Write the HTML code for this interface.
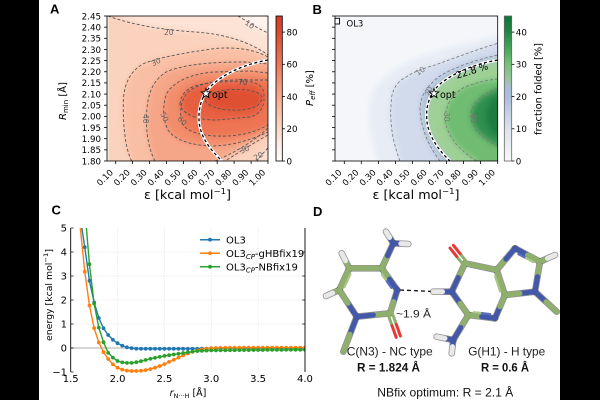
<!DOCTYPE html>
<html><head><meta charset="utf-8"><style>
html,body{margin:0;padding:0;background:#000;}
svg{display:block}
text{font-family:"DejaVu Sans","Liberation Sans",sans-serif;fill:#000;}
</style></head><body>
<svg width="600" height="400" viewBox="0 0 600 400" xmlns="http://www.w3.org/2000/svg">
<defs>
<clipPath id="cA"><rect x="107" y="16" width="161" height="145"/></clipPath>
<clipPath id="cB"><rect x="335" y="16" width="162.7" height="145"/></clipPath>
<clipPath id="cC"><rect x="70.7" y="228" width="234.3" height="147"/></clipPath>
<filter id="bl" x="-20%" y="-20%" width="140%" height="140%"><feGaussianBlur stdDeviation="3"/></filter>
<linearGradient id="gA" x1="0" y1="0" x2="0" y2="1">
<stop offset="0" stop-color="#d63a27"/><stop offset="0.11" stop-color="#dd4a30"/><stop offset="0.22" stop-color="#e66044"/>
<stop offset="0.33" stop-color="#ee7757"/><stop offset="0.44" stop-color="#f38f71"/><stop offset="0.56" stop-color="#f7a98c"/>
<stop offset="0.67" stop-color="#f9c1a8"/><stop offset="0.78" stop-color="#fcd7c7"/><stop offset="0.89" stop-color="#feece4"/>
<stop offset="1" stop-color="#ffffff"/></linearGradient>
<linearGradient id="gB" x1="0" y1="0" x2="0" y2="1">
<stop offset="0" stop-color="#0f7335"/><stop offset="0.11" stop-color="#218646"/><stop offset="0.22" stop-color="#45a55a"/>
<stop offset="0.33" stop-color="#74c177"/><stop offset="0.44" stop-color="#9cc4a4"/><stop offset="0.5" stop-color="#a8bcd6"/>
<stop offset="0.56" stop-color="#abbedc"/><stop offset="0.78" stop-color="#dce3ee"/><stop offset="1" stop-color="#f8f8f8"/></linearGradient>
<path id="star" d="M0,-5 L1.23,-1.7 L4.76,-1.55 L2,0.65 L2.94,4.05 L0,2.1 L-2.94,4.05 L-2,0.65 L-4.76,-1.55 L-1.23,-1.7 Z" fill="#fff" stroke="#000" stroke-width="0.9"/>
<marker id="mb" markerWidth="6" markerHeight="6" refX="3" refY="3" markerUnits="userSpaceOnUse"><circle cx="3" cy="3" r="1.9" fill="#1f77b4"/></marker>
<marker id="mo" markerWidth="6" markerHeight="6" refX="3" refY="3" markerUnits="userSpaceOnUse"><circle cx="3" cy="3" r="1.9" fill="#ff7f0e"/></marker>
<marker id="mg" markerWidth="6" markerHeight="6" refX="3" refY="3" markerUnits="userSpaceOnUse"><circle cx="3" cy="3" r="1.9" fill="#2ca02c"/></marker>
</defs>

<rect x="0" y="0" width="600" height="400" fill="#000"/>
<rect x="39" y="0" width="521" height="400" fill="#fff"/>

<!-- ================= PANEL A ================= -->
<text x="50" y="13.5" font-size="13" font-weight="bold" style="font-family:'Liberation Sans',sans-serif">A</text>
<g clip-path="url(#cA)">
<rect x="107" y="16" width="161" height="145" fill="#fbd2bd"/>
<g filter="url(#bl)">
<path d="M100,4 L107,10 C125,22 150,29 195,32 C225,34 250,42 268,55 L285,62 L285,4 Z" fill="#fde3d6"/>
<path d="M238,4 L238,16 C245,20 255,27 268,33 L285,40 L285,4 Z" fill="#fff3ee"/>
<path d="M285,140 L268,148 C262,154 259,158 256,172 L285,172 Z" fill="#fde3d6"/>
<path d="M131.7,172 L131.7,161 C126,150 123,130 123.3,103 C123.5,85 130,70 145,63 C165,56 190,52 216.7,48.3 C240,47 255,50 268,57 L285,60 L285,130 L268,135 C250,145 235,155 225,161 L222,172 Z" fill="#f9bfa4"/>
<path d="M155,172 L155,161 C148,148 146,130 146.5,117 C147,95 152,80 168,71 C190,63 220,62 245,62 L268,64 L285,64 L285,125 L268,128 C255,140 240,150 215,161 L212,172 Z" fill="#f6a688"/>
<path d="M168,130 C163,120 162,105 167,93 C175,80 195,73 215,72 L250,71 L268,73 L285,73 L285,130 L268,132 C255,138 235,146 210,146 C190,145 175,140 168,130 Z" fill="#f28d6c"/>
<path d="M183,125 C179,115 180,100 188,92 C198,84 215,80 240,80 L268,80 L285,80 L285,124 L268,125 C255,132 240,137 215,136 C198,135 188,131 183,125 Z" fill="#ed7453"/>
<path d="M180,104 C181,95 186,89 195,86 C205,83 215,82 230,81.7 L250,81.7 C258,83 263,87 264,93 L264,102 C262,110 258,115 250,117 L216.7,120 C205,120 196,118 190,115 C184,112 180,108 180,104 Z" fill="#e65f3f"/>
<path d="M205,100 C208,93 218,90 235,89.5 C250,89 260,92 262,97 C262,104 255,109 240,110 C222,111 208,107 205,100 Z" fill="#df4f33"/>
</g>
<rect x="107" y="16" width="2" height="145" fill="#fbe8d2"/>
<g fill="none" stroke="#555" stroke-width="0.9" stroke-dasharray="3,2">
<path d="M238,16 C245,20 255,27 268,33"/>
<path d="M108,16 C125,22 150,29 195,32 C225,34 250,42 268,55"/>
<path d="M268,148 C262,154 259,158 257,161"/>
<path d="M131.7,161 C126,150 123,130 123.3,103 C123.5,85 130,70 145,63 C165,56 190,52 216.7,48.3 C240,47 255,50 268,57"/>
<path d="M268,135 C250,145 235,155 225,161"/>
<path d="M155,161 C148,148 146,130 146.5,117 C147,95 152,80 168,71 C190,63 220,62 245,62 L268,64"/>
<path d="M268,128 C255,140 240,150 215,161"/>
<path d="M268,73 L250,71 L215,72 C195,73 175,80 167,93 C162,105 163,120 168,130 C175,140 190,145 210,146 C235,146 255,138 268,132"/>
<path d="M268,80 L240,80 C215,80 198,84 188,92 C180,100 179,115 183,125 C188,131 198,135 215,136 C240,137 255,132 268,125"/>
<path d="M180,104 C181,95 186,89 195,86 C205,83 215,82 230,81.7 L250,81.7 C258,83 263,87 264,93 L264,102 C262,110 258,115 250,117 L216.7,120 C205,120 196,118 190,115 C184,112 180,108 180,104 Z"/>
<path d="M205,100 C208,93 218,90 235,89.5 C250,89 260,92 262,97 C262,104 255,109 240,110 C222,111 208,107 205,100 Z"/>
</g>
<g font-size="7.5" fill="#666">
<text x="245" y="26" transform="rotate(35 248 24)" style="fill:#666">10</text>
<text x="164" y="35" style="fill:#666">20</text>
<text x="151" y="65" transform="rotate(-28 155 62)" style="fill:#666">30</text>
<text x="143" y="120" transform="rotate(90 146 117)" style="fill:#666">40</text>
<text x="160" y="120" transform="rotate(65 165 117)" style="fill:#666">50</text>
<text x="178" y="123" transform="rotate(45 182 120)" style="fill:#666">60</text>
<text x="238" y="85" style="fill:#555">70</text>
<text x="240" y="152" transform="rotate(-25 245 150)" style="fill:#666">30</text>
<text x="254" y="159" transform="rotate(-30 258 157)" style="fill:#666">20</text>
</g>
<path d="M268,60 C245,64 222,74 209,88 C199,100 196,118 202,134 C207,146 215,154 222,161" fill="none" stroke="#fff" stroke-width="3"/>
<path d="M268,60 C245,64 222,74 209,88 C199,100 196,118 202,134 C207,146 215,154 222,161" fill="none" stroke="#000" stroke-width="1.3" stroke-dasharray="3,2.5"/>
</g>
<use href="#star" x="206" y="93.5"/>
<text x="212" y="98" font-size="9.5">opt</text>
<rect x="107" y="16" width="161" height="145" fill="none" stroke="#000" stroke-width="0.8"/>
<g stroke="#000" stroke-width="0.8">
<line x1="104" y1="16" x2="107" y2="16"/><line x1="104" y1="27.15" x2="107" y2="27.15"/><line x1="104" y1="38.31" x2="107" y2="38.31"/><line x1="104" y1="49.46" x2="107" y2="49.46"/><line x1="104" y1="60.62" x2="107" y2="60.62"/><line x1="104" y1="71.77" x2="107" y2="71.77"/><line x1="104" y1="82.92" x2="107" y2="82.92"/><line x1="104" y1="94.08" x2="107" y2="94.08"/><line x1="104" y1="105.23" x2="107" y2="105.23"/><line x1="104" y1="116.38" x2="107" y2="116.38"/><line x1="104" y1="127.54" x2="107" y2="127.54"/><line x1="104" y1="138.69" x2="107" y2="138.69"/><line x1="104" y1="149.85" x2="107" y2="149.85"/><line x1="104" y1="161" x2="107" y2="161"/>
<line x1="115.7" y1="161" x2="115.7" y2="164"/><line x1="132.6" y1="161" x2="132.6" y2="164"/><line x1="149.5" y1="161" x2="149.5" y2="164"/><line x1="166.5" y1="161" x2="166.5" y2="164"/><line x1="183.4" y1="161" x2="183.4" y2="164"/><line x1="200.3" y1="161" x2="200.3" y2="164"/><line x1="217.2" y1="161" x2="217.2" y2="164"/><line x1="234.1" y1="161" x2="234.1" y2="164"/><line x1="251.1" y1="161" x2="251.1" y2="164"/><line x1="268" y1="161" x2="268" y2="164"/>
</g>
<g font-size="8.7" text-anchor="end">
<text x="101" y="19.3">2.45</text><text x="101" y="30.45">2.40</text><text x="101" y="41.6">2.35</text><text x="101" y="52.76">2.30</text><text x="101" y="63.9">2.25</text><text x="101" y="75.07">2.20</text><text x="101" y="86.2">2.15</text><text x="101" y="97.38">2.10</text><text x="101" y="108.53">2.05</text><text x="101" y="119.68">2.00</text><text x="101" y="130.84">1.95</text><text x="101" y="141.99">1.90</text><text x="101" y="153.15">1.85</text><text x="101" y="164.3">1.80</text>
</g>
<g font-size="8.5" text-anchor="end">
<text transform="translate(113.7,173) rotate(-45)">0.10</text>
<text transform="translate(130.6,173) rotate(-45)">0.20</text>
<text transform="translate(147.5,173) rotate(-45)">0.30</text>
<text transform="translate(164.5,173) rotate(-45)">0.40</text>
<text transform="translate(181.4,173) rotate(-45)">0.50</text>
<text transform="translate(198.3,173) rotate(-45)">0.60</text>
<text transform="translate(215.2,173) rotate(-45)">0.70</text>
<text transform="translate(232.1,173) rotate(-45)">0.80</text>
<text transform="translate(249.1,173) rotate(-45)">0.90</text>
<text transform="translate(266,173) rotate(-45)">1.00</text>
</g>
<text x="187.5" y="199" font-size="12" text-anchor="middle" textLength="87" lengthAdjust="spacingAndGlyphs">ε  [kcal mol<tspan font-size="8" dy="-5">−1</tspan><tspan dy="5">]</tspan></text>
<text transform="translate(66,101) rotate(-90)" font-size="10" text-anchor="middle"><tspan font-style="italic">R</tspan><tspan font-size="7" dy="2">min</tspan><tspan dy="-2"> [Å]</tspan></text>
<rect x="276" y="16" width="6.3" height="145" fill="url(#gA)" stroke="#000" stroke-width="0.8"/>
<g stroke="#000" stroke-width="0.8"><line x1="282.3" y1="161" x2="285" y2="161"/><line x1="282.3" y1="128.8" x2="285" y2="128.8"/><line x1="282.3" y1="96.6" x2="285" y2="96.6"/><line x1="282.3" y1="64.3" x2="285" y2="64.3"/><line x1="282.3" y1="32.1" x2="285" y2="32.1"/></g>
<g font-size="8.7"><text x="286.5" y="164.3">0</text><text x="286.5" y="132.1">20</text><text x="286.5" y="99.9">40</text><text x="286.5" y="67.6">60</text><text x="286.5" y="35.4">80</text></g>
<text transform="translate(313,88) rotate(-90)" font-size="10" text-anchor="middle"><tspan font-style="italic">P</tspan><tspan font-size="7" font-style="italic" dy="2">eff</tspan><tspan dy="-2"> [%]</tspan></text>

<!-- ================= PANEL B ================= -->
<text x="312.5" y="14" font-size="13" font-weight="bold" style="font-family:'Liberation Sans',sans-serif">B</text>
<g clip-path="url(#cB)">
<rect x="335" y="16" width="162.7" height="145" fill="#f4f6fa"/>
<g filter="url(#bl)">
<path d="M380,172 L378,161 C368,135 366,105 375,88 C388,68 420,55 460,45 L497.7,36 L515,34 L515,172 Z" fill="#e7ecf5"/>
<path d="M400,172 L400,158.3 C392,140 389,120 391.7,96.7 C394,85 400,80 406.7,76.7 C415,71 425,68 435,65 C455,58 475,50 497.7,43.3 L515,40 L515,172 Z" fill="#d2dbec"/>
<path d="M440,172 L440,161 C430,148 421,130 420,110 C420,95 428,85 440,76 C455,67 475,60 497.7,55 L515,53 L515,172 Z" fill="#b3c2df"/>
<path d="M450,172 L450,160 C440,150 430,138 427,123 C425,110 428,98 434,90 C445,78 460,70 497.7,60 L515,58 L515,172 Z" fill="#9ed096"/>
<path d="M476.7,172 L476.7,160 C462,152 450,140 446,125 C443,110 450,95 465,87 C478,82 488,80 497.7,79 L515,78 L515,172 Z" fill="#70bc72"/>
<path d="M497.7,146 C485,140 472,130 471,117 C470,105 480,95 497.7,88 L515,86 L515,150 Z" fill="#2e8f50"/>
<ellipse cx="502" cy="116" rx="16" ry="20" fill="#1c7b40"/>
</g>
<g fill="none" stroke="#777" stroke-width="0.8" stroke-dasharray="3,2">
<path d="M400,161 C392,140 389,120 391.7,96.7 C394,85 400,80 406.7,76.7 C415,71 425,68 435,65 C455,58 475,50 497.7,43.3"/>
<path d="M440,161 C430,148 421,130 420,110 C420,95 428,85 440,76 C455,67 475,60 497.7,55"/>
<path d="M476.7,161 C462,152 450,140 446,125 C443,110 450,95 465,87 C478,82 488,80 497.7,79"/>
<path d="M497.7,146 C485,140 472,130 471,117 C470,105 480,95 497.7,88"/>
</g>
<g font-size="7.5">
<text x="416" y="74" transform="rotate(-35 420 72)" style="fill:#777">10</text>
<text x="424" y="95" transform="rotate(-70 428 92)" style="fill:#777">20</text>
<text x="442" y="118" transform="rotate(90 446 116)" style="fill:#777">30</text>
<text x="469" y="119" transform="rotate(90 473 117)" style="fill:#777">40</text>
</g>
<path d="M497.7,60 C475,64 455,72 440,84 C430,93 426,105 426.7,118 C427,132 436,148 450,161" fill="none" stroke="#fff" stroke-width="3"/>
<path d="M497.7,60 C475,64 455,72 440,84 C430,93 426,105 426.7,118 C427,132 436,148 450,161" fill="none" stroke="#000" stroke-width="1.3" stroke-dasharray="3,2.5"/>
</g>
<text x="472" y="74" font-size="9.5" text-anchor="middle" transform="rotate(-17 472 71)">22.8 %</text>
<use href="#star" x="434" y="93.5"/>
<text x="440" y="98" font-size="9.5">opt</text>
<rect x="335" y="16" width="162.7" height="145" fill="none" stroke="#000" stroke-width="0.8"/>
<rect x="335" y="18.3" width="4.5" height="5.7" fill="#fff" stroke="#000" stroke-width="0.9"/>
<text x="346.5" y="26.3" font-size="8.5">OL3</text>
<g stroke="#000" stroke-width="0.8">
<line x1="332" y1="16" x2="335" y2="16"/><line x1="332" y1="27.15" x2="335" y2="27.15"/><line x1="332" y1="38.31" x2="335" y2="38.31"/><line x1="332" y1="49.46" x2="335" y2="49.46"/><line x1="332" y1="60.62" x2="335" y2="60.62"/><line x1="332" y1="71.77" x2="335" y2="71.77"/><line x1="332" y1="82.92" x2="335" y2="82.92"/><line x1="332" y1="94.08" x2="335" y2="94.08"/><line x1="332" y1="105.23" x2="335" y2="105.23"/><line x1="332" y1="116.38" x2="335" y2="116.38"/><line x1="332" y1="127.54" x2="335" y2="127.54"/><line x1="332" y1="138.69" x2="335" y2="138.69"/><line x1="332" y1="149.85" x2="335" y2="149.85"/><line x1="332" y1="161" x2="335" y2="161"/>
<line x1="344.3" y1="161" x2="344.3" y2="164"/><line x1="361.3" y1="161" x2="361.3" y2="164"/><line x1="378.4" y1="161" x2="378.4" y2="164"/><line x1="395.4" y1="161" x2="395.4" y2="164"/><line x1="412.5" y1="161" x2="412.5" y2="164"/><line x1="429.5" y1="161" x2="429.5" y2="164"/><line x1="446.5" y1="161" x2="446.5" y2="164"/><line x1="463.6" y1="161" x2="463.6" y2="164"/><line x1="480.6" y1="161" x2="480.6" y2="164"/><line x1="497.7" y1="161" x2="497.7" y2="164"/>
</g>
<g font-size="8.5" text-anchor="end">
<text transform="translate(342.3,173) rotate(-45)">0.10</text>
<text transform="translate(359.3,173) rotate(-45)">0.20</text>
<text transform="translate(376.4,173) rotate(-45)">0.30</text>
<text transform="translate(393.4,173) rotate(-45)">0.40</text>
<text transform="translate(410.5,173) rotate(-45)">0.50</text>
<text transform="translate(427.5,173) rotate(-45)">0.60</text>
<text transform="translate(444.5,173) rotate(-45)">0.70</text>
<text transform="translate(461.6,173) rotate(-45)">0.80</text>
<text transform="translate(478.6,173) rotate(-45)">0.90</text>
<text transform="translate(495.7,173) rotate(-45)">1.00</text>
</g>
<text x="416" y="199" font-size="12" text-anchor="middle" textLength="87" lengthAdjust="spacingAndGlyphs">ε  [kcal mol<tspan font-size="8" dy="-5">−1</tspan><tspan dy="5">]</tspan></text>
<rect x="504.3" y="16" width="7.4" height="145" fill="url(#gB)" stroke="#666" stroke-width="0.8"/>
<g stroke="#000" stroke-width="0.8"><line x1="511.7" y1="161" x2="514.4" y2="161"/><line x1="511.7" y1="128.8" x2="514.4" y2="128.8"/><line x1="511.7" y1="96.6" x2="514.4" y2="96.6"/><line x1="511.7" y1="64.3" x2="514.4" y2="64.3"/><line x1="511.7" y1="32.1" x2="514.4" y2="32.1"/></g>
<g font-size="8.7"><text x="515.8" y="164.3">0</text><text x="515.8" y="132.1">10</text><text x="515.8" y="99.9">20</text><text x="515.8" y="67.6">30</text><text x="515.8" y="35.4">40</text></g>
<text transform="translate(541.5,89) rotate(-90)" font-size="10" text-anchor="middle" textLength="92" lengthAdjust="spacingAndGlyphs">fraction folded  [%]</text>

<!-- ================= PANEL C ================= -->
<text x="51.5" y="214.5" font-size="13" font-weight="bold" style="font-family:'Liberation Sans',sans-serif">C</text>
<g stroke="#ddd" stroke-width="0.7" stroke-dasharray="1,1.5">
<line x1="117.55" y1="228" x2="117.55" y2="372"/><line x1="164.4" y1="228" x2="164.4" y2="372"/><line x1="211.25" y1="228" x2="211.25" y2="372"/><line x1="258.1" y1="228" x2="258.1" y2="372"/>
<line x1="70.7" y1="252" x2="305" y2="252"/><line x1="70.7" y1="276" x2="305" y2="276"/><line x1="70.7" y1="300" x2="305" y2="300"/><line x1="70.7" y1="324" x2="305" y2="324"/>
</g>
<line x1="70.7" y1="348" x2="305" y2="348" stroke="#c8c8c8" stroke-width="1.5"/>
<g clip-path="url(#cC)" fill="none" stroke-width="1.4" stroke-linejoin="round">
<polyline stroke="#1f77b4" marker-start="url(#mb)" marker-mid="url(#mb)" marker-end="url(#mb)" points="80.07,216 84.76,247.2 89.44,280.8 94.13,302.4 98.81,318 103.5,328.3 108.18,335 112.87,339.8 117.55,343.2 122.24,345.6 126.92,347.3 131.61,348.2 136.29,348.7 140.98,348.8 145.66,348.8 150.35,348.8 155.03,348.8 159.72,348.8 164.4,348.8 169.09,348.8 173.77,348.8 178.46,348.8 183.14,348.8 187.83,348.8 192.51,348.8 197.2,348.8 201.88,348.7 206.57,348.6 211.25,348.5 215.94,348.4 220.62,348.3 225.31,348.3 229.99,348.2 234.68,348.2 239.36,348.2 244.05,348.2 248.73,348.2 253.42,348.2 258.1,348.2 262.79,348.2 267.47,348.2 272.16,348.2 276.84,348.2 281.53,348.2 286.21,348.2 290.9,348.2 295.58,348.2 300.27,348.2 304.95,348.2"/>
<polyline stroke="#ff7f0e" marker-start="url(#mo)" marker-mid="url(#mo)" marker-end="url(#mo)" points="75.38,170 80.07,225.6 84.76,271.7 89.44,305.5 94.13,328.1 98.81,342.5 103.5,352.1 108.18,359 112.87,364.3 117.55,367.7 122.24,369.6 126.92,370.6 131.61,371 136.29,371 140.98,370.8 145.66,370.1 150.35,369.1 155.03,367.7 159.72,366 164.4,364.1 169.09,361.9 173.77,359.8 178.46,357.6 183.14,355.4 187.83,353.5 192.51,351.8 197.2,350.4 201.88,349.4 206.57,348.7 211.25,348.2 215.94,348 220.62,347.9 225.31,347.8 229.99,347.8 234.68,347.8 239.36,347.8 244.05,347.7 248.73,347.7 253.42,347.7 258.1,347.7 262.79,347.7 267.47,347.7 272.16,347.7 276.84,347.7 281.53,347.7 286.21,347.7 290.9,347.7 295.58,347.7 300.27,347.7 304.95,347.7"/>
<polyline stroke="#2ca02c" marker-start="url(#mg)" marker-mid="url(#mg)" marker-end="url(#mg)" points="84.76,208.8 89.44,264.2 94.13,303.6 98.81,327.6 103.5,342.2 108.18,352.8 112.87,357.6 117.55,361 122.24,362.4 126.92,362.9 131.61,362.9 136.29,362.2 140.98,361.2 145.66,360 150.35,358.8 155.03,357.8 159.72,356.9 164.4,355.9 169.09,355.2 173.77,354.5 178.46,353.8 183.14,353 187.83,352.3 192.51,351.6 197.2,351.1 201.88,350.9 206.57,350.6 211.25,350.4 215.94,350.4 220.62,350.3 225.31,350.3 229.99,350.2 234.68,350.2 239.36,350.1 244.05,350.1 248.73,350.1 253.42,350 258.1,350 262.79,350 267.47,349.9 272.16,349.9 276.84,349.9 281.53,349.9 286.21,349.8 290.9,349.8 295.58,349.8 300.27,349.8 304.95,349.8"/>
</g>
<line x1="70.7" y1="228" x2="70.7" y2="372" stroke="#000" stroke-width="0.9"/>
<line x1="305" y1="228" x2="305" y2="372" stroke="#000" stroke-width="0.9"/>
<g stroke="#000" stroke-width="0.7">
<line x1="70.7" y1="228" x2="73.5" y2="228"/><line x1="70.7" y1="252" x2="73.5" y2="252"/><line x1="70.7" y1="276" x2="73.5" y2="276"/><line x1="70.7" y1="300" x2="73.5" y2="300"/><line x1="70.7" y1="324" x2="73.5" y2="324"/><line x1="70.7" y1="348" x2="73.5" y2="348"/><line x1="70.7" y1="372" x2="73.5" y2="372"/>
<line x1="302.2" y1="252" x2="305" y2="252"/><line x1="302.2" y1="276" x2="305" y2="276"/><line x1="302.2" y1="300" x2="305" y2="300"/><line x1="302.2" y1="324" x2="305" y2="324"/>
</g>
<g font-size="10" text-anchor="end">
<text x="67" y="231.6">5</text><text x="67" y="255.6">4</text><text x="67" y="279.6">3</text><text x="67" y="303.6">2</text><text x="67" y="327.6">1</text><text x="67" y="351.6">0</text><text x="67" y="375.6">−1</text>
</g>
<g font-size="10" text-anchor="middle">
<text x="70.7" y="382">1.5</text><text x="117.55" y="382">2.0</text><text x="164.4" y="382">2.5</text><text x="211.25" y="382">3.0</text><text x="258.1" y="382">3.5</text><text x="304.95" y="382">4.0</text>
</g>
<text x="188" y="396" font-size="9.5" text-anchor="middle"><tspan font-style="italic">r</tspan><tspan font-size="6.5" dy="2">N···H</tspan><tspan dy="-2"> [Å]</tspan></text>
<text transform="translate(52,295) rotate(-90)" font-size="9" text-anchor="middle" textLength="92" lengthAdjust="spacingAndGlyphs">energy [kcal mol<tspan font-size="6.5" dy="-4">−1</tspan><tspan dy="4">]</tspan></text>
<line x1="200" y1="239.7" x2="220" y2="239.7" stroke="#1f77b4" stroke-width="1.5"/><circle cx="210" cy="239.7" r="1.9" fill="#1f77b4"/>
<line x1="200" y1="253.3" x2="220" y2="253.3" stroke="#ff7f0e" stroke-width="1.5"/><circle cx="210" cy="253.3" r="1.9" fill="#ff7f0e"/>
<line x1="200" y1="266.7" x2="220" y2="266.7" stroke="#2ca02c" stroke-width="1.5"/><circle cx="210" cy="266.7" r="1.9" fill="#2ca02c"/>
<g font-size="10">
<text x="226" y="243.3">OL3</text>
<text x="226" y="256.9">OL3<tspan font-size="7" font-style="italic" dy="2">CP</tspan><tspan dy="-2">-gHBfix19</tspan></text>
<text x="226" y="270.3">OL3<tspan font-size="7" font-style="italic" dy="2">CP</tspan><tspan dy="-2">-NBfix19</tspan></text>
</g>

<!-- ================= PANEL D ================= -->
<text x="313" y="216" font-size="13" font-weight="bold" style="font-family:'Liberation Sans',sans-serif">D</text>
<line x1="400" y1="290" x2="433" y2="291.5" stroke="#111" stroke-width="1.3" stroke-dasharray="4,3"/>
<g stroke="#3d3d3d" stroke-opacity="0.55" stroke-width="6.6" stroke-linecap="round" fill="none">
<line x1="349.3" y1="268.3" x2="381.7" y2="268.3"/><line x1="381.7" y1="268.3" x2="397.3" y2="290"/><line x1="397.3" y1="290" x2="390" y2="313.3"/><line x1="390" y1="313.3" x2="356.7" y2="316.7"/><line x1="356.7" y1="316.7" x2="339.3" y2="290"/><line x1="339.3" y1="290" x2="349.3" y2="268.3"/><line x1="381.7" y1="268.3" x2="393.3" y2="243.3"/><line x1="393.3" y1="243.3" x2="386" y2="231.7"/><line x1="393.3" y1="243.3" x2="408.3" y2="244"/><line x1="349.3" y1="268.3" x2="341.7" y2="253.3"/><line x1="339.3" y1="290" x2="326" y2="296"/><line x1="356.7" y1="316.7" x2="343.3" y2="351.7"/>
<line x1="465" y1="263.3" x2="451.7" y2="291.7"/><line x1="451.7" y1="291.7" x2="433.3" y2="291.7"/><line x1="451.7" y1="291.7" x2="468.3" y2="315"/><line x1="468.3" y1="315" x2="453.3" y2="340"/><line x1="453.3" y1="340" x2="436.7" y2="336.7"/><line x1="453.3" y1="340" x2="451.7" y2="353.3"/><line x1="468.3" y1="315" x2="495" y2="318.3"/><line x1="495" y1="318.3" x2="505" y2="295"/><line x1="505" y1="295" x2="496.7" y2="270"/><line x1="496.7" y1="270" x2="465" y2="263.3"/><line x1="496.7" y1="270" x2="515" y2="248.3"/><line x1="515" y1="248.3" x2="540" y2="261.7"/><line x1="540" y1="261.7" x2="555" y2="255"/><line x1="540" y1="261.7" x2="535" y2="291.7"/><line x1="535" y1="291.7" x2="505" y2="295"/><line x1="535" y1="291.7" x2="556.7" y2="311.7"/>
</g>
<g stroke-width="5" stroke-linecap="round" fill="none">
<line x1="349.3" y1="268.3" x2="381.7" y2="268.3" stroke="#8fb06c"/>
<line x1="381.7" y1="268.3" x2="389.5" y2="279.15" stroke="#8fb06c"/><line x1="389.5" y1="279.15" x2="397.3" y2="290" stroke="#4458aa"/>
<line x1="397.3" y1="290" x2="393.65" y2="301.65" stroke="#4458aa"/><line x1="393.65" y1="301.65" x2="390" y2="313.3" stroke="#8fb06c"/>
<line x1="390" y1="313.3" x2="373.35" y2="315" stroke="#8fb06c"/><line x1="373.35" y1="315" x2="356.7" y2="316.7" stroke="#4458aa"/>
<line x1="356.7" y1="316.7" x2="348" y2="303.35" stroke="#4458aa"/><line x1="348" y1="303.35" x2="339.3" y2="290" stroke="#8fb06c"/>
<line x1="339.3" y1="290" x2="349.3" y2="268.3" stroke="#8fb06c"/>
<line x1="381.7" y1="268.3" x2="387.5" y2="255.8" stroke="#8fb06c"/><line x1="387.5" y1="255.8" x2="393.3" y2="243.3" stroke="#4458aa"/>
<line x1="393.3" y1="243.3" x2="389.65" y2="237.5" stroke="#4458aa"/><line x1="389.65" y1="237.5" x2="386" y2="231.7" stroke="#e8e8e8"/>
<line x1="393.3" y1="243.3" x2="400.8" y2="243.65" stroke="#4458aa"/><line x1="400.8" y1="243.65" x2="408.3" y2="244" stroke="#e8e8e8"/>
<line x1="349.3" y1="268.3" x2="345.5" y2="260.8" stroke="#8fb06c"/><line x1="345.5" y1="260.8" x2="341.7" y2="253.3" stroke="#e8e8e8"/>
<line x1="339.3" y1="290" x2="332.65" y2="293" stroke="#8fb06c"/><line x1="332.65" y1="293" x2="326" y2="296" stroke="#e8e8e8"/>
<line x1="356.7" y1="316.7" x2="350" y2="334.2" stroke="#4458aa"/><line x1="350" y1="334.2" x2="343.3" y2="351.7" stroke="#8fb06c"/>
<line x1="465" y1="263.3" x2="458.35" y2="277.5" stroke="#8fb06c"/><line x1="458.35" y1="277.5" x2="451.7" y2="291.7" stroke="#4458aa"/>
<line x1="451.7" y1="291.7" x2="442.5" y2="291.7" stroke="#4458aa"/><line x1="442.5" y1="291.7" x2="433.3" y2="291.7" stroke="#e8e8e8"/>
<line x1="451.7" y1="291.7" x2="460" y2="303.35" stroke="#4458aa"/><line x1="460" y1="303.35" x2="468.3" y2="315" stroke="#8fb06c"/>
<line x1="468.3" y1="315" x2="460.8" y2="327.5" stroke="#8fb06c"/><line x1="460.8" y1="327.5" x2="453.3" y2="340" stroke="#4458aa"/>
<line x1="453.3" y1="340" x2="445" y2="338.35" stroke="#4458aa"/><line x1="445" y1="338.35" x2="436.7" y2="336.7" stroke="#e8e8e8"/>
<line x1="453.3" y1="340" x2="452.5" y2="346.65" stroke="#4458aa"/><line x1="452.5" y1="346.65" x2="451.7" y2="353.3" stroke="#e8e8e8"/>
<line x1="468.3" y1="315" x2="481.65" y2="316.65" stroke="#8fb06c"/><line x1="481.65" y1="316.65" x2="495" y2="318.3" stroke="#4458aa"/>
<line x1="495" y1="318.3" x2="500" y2="306.65" stroke="#4458aa"/><line x1="500" y1="306.65" x2="505" y2="295" stroke="#8fb06c"/>
<line x1="505" y1="295" x2="496.7" y2="270" stroke="#8fb06c"/>
<line x1="496.7" y1="270" x2="465" y2="263.3" stroke="#8fb06c"/>
<line x1="496.7" y1="270" x2="505.85" y2="259.15" stroke="#8fb06c"/><line x1="505.85" y1="259.15" x2="515" y2="248.3" stroke="#4458aa"/>
<line x1="515" y1="248.3" x2="527.5" y2="255" stroke="#4458aa"/><line x1="527.5" y1="255" x2="540" y2="261.7" stroke="#8fb06c"/>
<line x1="540" y1="261.7" x2="547.5" y2="258.35" stroke="#8fb06c"/><line x1="547.5" y1="258.35" x2="555" y2="255" stroke="#e8e8e8"/>
<line x1="540" y1="261.7" x2="537.5" y2="276.7" stroke="#8fb06c"/><line x1="537.5" y1="276.7" x2="535" y2="291.7" stroke="#4458aa"/>
<line x1="535" y1="291.7" x2="520" y2="293.35" stroke="#4458aa"/><line x1="520" y1="293.35" x2="505" y2="295" stroke="#8fb06c"/>
<line x1="535" y1="291.7" x2="545.85" y2="301.7" stroke="#4458aa"/><line x1="545.85" y1="301.7" x2="556.7" y2="311.7" stroke="#8fb06c"/>
</g>
<g stroke-width="3" stroke-linecap="round" fill="none">
<line x1="392.1" y1="312.6" x2="396.25" y2="324.3" stroke="#8fb06c"/><line x1="396.25" y1="324.3" x2="400.4" y2="336" stroke="#e53935"/>
<line x1="387.9" y1="314" x2="392.05" y2="325.7" stroke="#8fb06c"/><line x1="392.05" y1="325.7" x2="396.2" y2="337.4" stroke="#e53935"/>
<line x1="466.7" y1="261.9" x2="460.05" y2="253.6" stroke="#8fb06c"/><line x1="460.05" y1="253.6" x2="453.4" y2="245.3" stroke="#e53935"/>
<line x1="463.3" y1="264.7" x2="456.65" y2="256.4" stroke="#8fb06c"/><line x1="456.65" y1="256.4" x2="450" y2="248.1" stroke="#e53935"/>
</g>
<g stroke-width="2.2" stroke-linecap="round" fill="none">
<line x1="382" y1="274.7" x2="386.7" y2="281.25" stroke="#a9c78a"/><line x1="386.7" y1="281.25" x2="391.4" y2="287.8" stroke="#5a6cc0"/>
<line x1="344.5" y1="287.1" x2="350.5" y2="274.1" stroke="#a9c78a"/>
<line x1="474" y1="312.2" x2="482.05" y2="313.15" stroke="#a9c78a"/><line x1="482.05" y1="313.15" x2="490.1" y2="314.1" stroke="#5a6cc0"/>
<line x1="500" y1="291.1" x2="495.1" y2="276.1" stroke="#a9c78a"/>
<line x1="518.4" y1="254.1" x2="525.9" y2="258.1" stroke="#5a6cc0"/><line x1="525.9" y1="258.1" x2="533.4" y2="262.1" stroke="#a9c78a"/>
</g>
<text x="396" y="317.5" font-size="11" textLength="35" lengthAdjust="spacingAndGlyphs" style="font-family:'Liberation Sans',sans-serif;fill:#222">~1.9 Å</text>
<text x="389.7" y="355.5" font-size="12" text-anchor="middle" textLength="86" lengthAdjust="spacingAndGlyphs" style="font-family:'Liberation Sans',sans-serif;fill:#222">C(N3) - NC type</text>
<text x="388.5" y="371.5" font-size="12" font-weight="bold" text-anchor="middle" textLength="63" lengthAdjust="spacingAndGlyphs" style="font-family:'Liberation Sans',sans-serif;fill:#111">R = 1.824 Å</text>
<text x="506.7" y="355.5" font-size="12" text-anchor="middle" textLength="77" lengthAdjust="spacingAndGlyphs" style="font-family:'Liberation Sans',sans-serif;fill:#222">G(H1) - H type</text>
<text x="505" y="371.5" font-size="12" font-weight="bold" text-anchor="middle" textLength="48" lengthAdjust="spacingAndGlyphs" style="font-family:'Liberation Sans',sans-serif;fill:#111">R = 0.6 Å</text>
<text x="445.3" y="396.5" font-size="12" text-anchor="middle" textLength="136" lengthAdjust="spacingAndGlyphs" style="font-family:'Liberation Sans',sans-serif;fill:#111">NBfix optimum: R = 2.1 Å</text>
</svg>
</body></html>
